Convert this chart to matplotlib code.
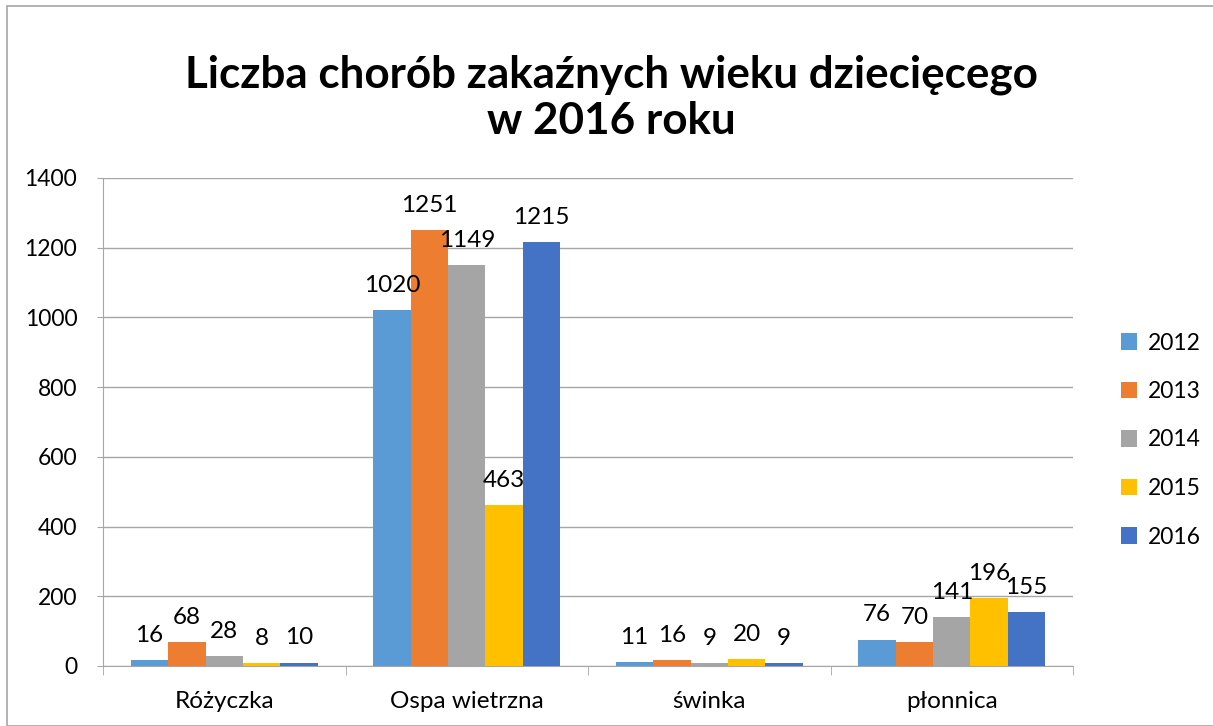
import numpy as np
import matplotlib
matplotlib.use("Agg")
import matplotlib.pyplot as plt
from matplotlib.patches import Rectangle

plt.rcParams['font.family'] = ['Lato', 'DejaVu Sans']

categories = ["Różyczka", "Ospa wietrzna", "świnka", "płonnica"]
years = ["2012", "2013", "2014", "2015", "2016"]
v2012 = [16, 1020, 11, 76]
v2013 = [68, 1251, 16, 70]
v2014 = [28, 1149, 9, 141]
v2015 = [8, 463, 20, 196]
v2016 = [10, 1215, 9, 155]
colors = ["#5b9bd5", "#ed7d31", "#a5a5a5", "#ffc000", "#4472c4"]

series = [v2012, v2013, v2014, v2015, v2016]

W, H = 1213, 726
fig = plt.figure(figsize=(W / 100, H / 100), dpi=100)
ax = fig.add_axes([103 / W, (H - 666) / H, (1073 - 103) / W, (666 - 178) / H])

x = np.arange(len(categories))
bw = 0.77 / len(series)
for i, (vals, col, yr) in enumerate(zip(series, colors, years)):
    pos = x + (i - 2) * bw
    ax.bar(pos, vals, width=bw, color=col, label=yr, zorder=3)
    for p, v in zip(pos, vals):
        ax.annotate(str(v), (p, v), xytext=(0, 13), textcoords='offset points',
                    ha='center', va='baseline', fontsize=17.5, color='#000000',
                    zorder=6)

ax.set_xlim(-0.5, len(categories) - 0.5)
ax.set_ylim(0, 1400)
ax.set_yticks(range(0, 1401, 200))
ax.tick_params(axis='y', length=4.5, color='#a6a6a6', labelsize=16.5, pad=14)
ax.yaxis.grid(True, color='#a6a6a6', linewidth=1, zorder=0)

ax.set_xticks(x)
ax.set_xticklabels(categories)
ax.set_xticks(np.arange(-0.5, len(categories)), minor=True)
ax.tick_params(axis='x', which='major', length=0, labelsize=17.5, pad=18)
ax.tick_params(axis='x', which='minor', length=6.5, color='#a6a6a6')

for s in ['top', 'right']:
    ax.spines[s].set_visible(False)
for s in ['left', 'bottom']:
    ax.spines[s].set_color('#a6a6a6')

fig.text(611 / W, 1 - 75 / H, "Liczba chorób zakaźnych wieku dziecięcego",
         ha='center', va='center', fontsize=31.7, fontweight='bold')
fig.text(611 / W, 1 - 121 / H, "w 2016 roku",
         ha='center', va='center', fontsize=31.7, fontweight='bold')

leg = fig.legend(loc='center left', bbox_to_anchor=(1100 / W, 1 - 440 / H),
                 frameon=False, fontsize=16.5, handlelength=0.7, handleheight=0.7,
                 handletextpad=0.5, labelspacing=1.2)

fig.patches.append(Rectangle((7 / W, 0), 1.0, 1 - 6 / H, transform=fig.transFigure,
                             fill=False, edgecolor='#a6a6a6', linewidth=1.2))

fig.savefig("out.png", dpi=100)
